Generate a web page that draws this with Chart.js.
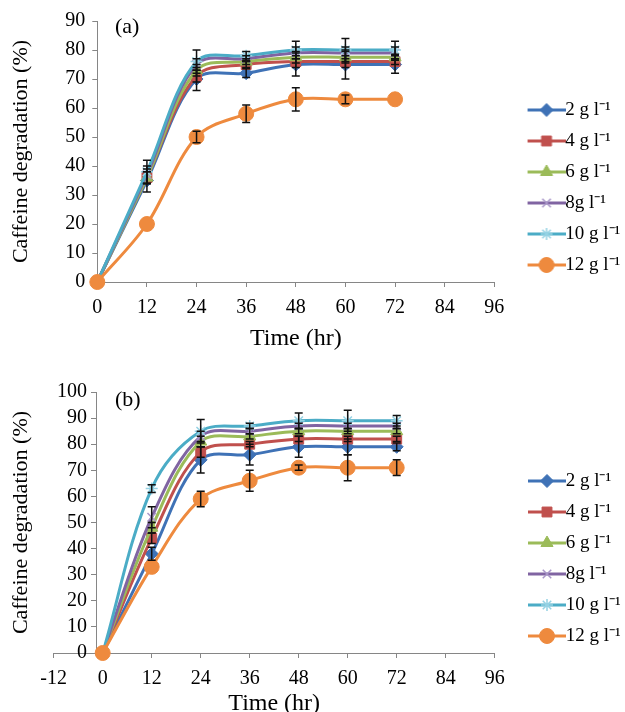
<!DOCTYPE html>
<html>
<head>
<meta charset="utf-8">
<script src="https://cdn.jsdelivr.net/npm/chart.js@4.4.1/dist/chart.umd.min.js"></script>
<style>
  html, body { margin: 0; padding: 0; background: #fff; width: 625px; height: 712px; overflow: hidden; }
  .panel { position: absolute; left: 0; width: 625px; height: 360px; }
</style>
</head>
<body>
<div class="panel" style="top:0"><canvas id="chartA"></canvas></div>
<div class="panel" style="top:370px"><canvas id="chartB"></canvas></div>
<script>
// time points (hr)
const hours = [0, 12, 24, 36, 48, 60, 72];
const seriesNames = ['2 g l\u207B\u00B9', '4 g l\u207B\u00B9', '6 g l\u207B\u00B9', '8g l\u207B\u00B9', '10 g l\u207B\u00B9', '12 g l\u207B\u00B9'];

// panel (a) - caffeine degradation (%)
const a2  = [0, 35, 70, 72, 75, 75, 75];
const a4  = [0, 36, 71, 75, 76, 76, 76];
const a6  = [0, 36, 73, 76, 77.5, 77.5, 77.5];
const a8  = [0, 37, 75, 77, 79, 79, 79];
const a10 = [0, 38, 76, 78, 80, 80, 80];
const a12 = [0, 20, 50, 58, 63, 63, 63];
// panel (a) - error (+/-)
const ea2  = [0, 4, 4, 1.5, 4, 5, 3];
const ea4  = [0, 2, 2, 1, 2, 2, 1];
const ea6  = [0, 2, 2, 1, 2, 2, 1];
const ea8  = [0, 3, 2, 1, 2, 2, 2];
const ea10 = [0, 4, 4, 1.5, 3, 4, 3];
const ea12 = [0, 0, 2, 3, 4, 1.5, 0];

// panel (b)
const b2  = [0, 38, 74, 76, 79, 79, 79];
const b4  = [0, 44, 77, 80, 82, 82, 82];
const b6  = [0, 48, 81, 83, 85, 85, 85];
const b8  = [0, 52, 83, 85, 87, 87, 87];
const b10 = [0, 63, 85, 87, 89, 89, 89];
const b12 = [0, 33, 59, 66, 71, 71, 71];
const eb2  = [0, 2.5, 5, 4, 4, 3, 1.5];
const eb4  = [0, 2, 2, 1, 1, 1, 1];
const eb6  = [0, 2, 2, 1, 1, 1, 1];
const eb8  = [0, 4, 2, 1, 1, 1, 1];
const eb10 = [0, 1.5, 4.5, 1, 3, 4, 2];
const eb12 = [0, 0, 3, 4, 1, 5, 3];

const serif = "'Liberation Serif', 'Times New Roman', serif";
const axisGray = '#868686';

// look of each series (Excel 2010 palette)
const styles = [
  { color: '#3F72B6', marker: '#3F72B6', pointStyle: 'rectRot', radius: 6.5 },
  { color: '#C0504D', marker: '#C0504D', pointStyle: 'rect', radius: 7 },
  { color: '#9BBB59', marker: '#9BBB59', pointStyle: 'triangle', radius: 7 },
  { color: '#8064A2', marker: '#A896C8', pointStyle: 'crossRot', radius: 6 },
  { color: '#4BACC6', marker: '#95D2E4', pointStyle: 'star', radius: 6 },
  { color: '#EE8A3E', marker: '#EE8A3E', pointStyle: 'circle', radius: 7.5 }
];

function buildDatasets(valueSets, errorSets) {
  return valueSets.map((vals, i) => {
    const st = styles[i];
    const thin = st.pointStyle === 'crossRot' || st.pointStyle === 'star';
    return {
      label: seriesNames[i],
      data: hours.map((h, j) => ({ x: h, y: vals[j] })),
      errors: errorSets[i],
      order: valueSets.length - i,
      borderColor: st.color,
      backgroundColor: st.color,
      borderWidth: 3,
      tension: 0.35,
      pointStyle: st.pointStyle,
      pointRadius: st.radius,
      pointBackgroundColor: st.marker,
      pointBorderColor: st.marker,
      pointBorderWidth: thin ? 1.5 : 1,
      clip: false
    };
  });
}

// small line + marker picture used as legend symbol
function legendSwatch(st) {
  const c = document.createElement('canvas');
  c.width = 69; c.height = 18;
  const g = c.getContext('2d');
  g.strokeStyle = st.color; g.lineWidth = 3;
  g.beginPath(); g.moveTo(31, 9); g.lineTo(69, 9); g.stroke();
  g.fillStyle = st.marker; g.strokeStyle = st.marker;
  const thin = st.pointStyle === 'crossRot' || st.pointStyle === 'star';
  g.lineWidth = thin ? 1.5 : 1;
  Chart.helpers.drawPoint(g, { pointStyle: st.pointStyle, radius: st.radius, rotation: 0, borderWidth: g.lineWidth }, 50, 9);
  return c;
}
const swatches = styles.map(legendSwatch);

const errorBars = {
  id: 'errorBars',
  afterDatasetsDraw(chart) {
    const { ctx, scales } = chart;
    ctx.save();
    ctx.strokeStyle = '#111';
    ctx.lineWidth = 1.5;
    chart.data.datasets.forEach(ds => {
      ds.data.forEach((p, i) => {
        const e = ds.errors[i];
        if (!e) return;
        const px = scales.x.getPixelForValue(p.x);
        const top = scales.y.getPixelForValue(p.y + e);
        const bot = scales.y.getPixelForValue(p.y - e);
        ctx.beginPath();
        ctx.moveTo(px, top); ctx.lineTo(px, bot);
        ctx.moveTo(px - 4, top); ctx.lineTo(px + 4, top);
        ctx.moveTo(px - 4, bot); ctx.lineTo(px + 4, bot);
        ctx.stroke();
      });
    });
    ctx.restore();
  }
};

const panelLabel = {
  id: 'panelLabel',
  afterDraw(chart, args, opts) {
    const { ctx, chartArea } = chart;
    ctx.save();
    ctx.font = '22px ' + serif;
    ctx.fillStyle = '#000';
    ctx.textBaseline = 'middle';
    ctx.fillText(opts.text, opts.x, chartArea.top + opts.dy);
    ctx.restore();
  }
};

function legendOptions(rightEdge) {
  return {
    position: 'right',
    align: 'start',
    maxWidth: 625 - rightEdge,
    title: { display: true, text: '', padding: { top: 57.5, bottom: 0 }, font: { size: 10, lineHeight: 1 } },
    labels: {
      usePointStyle: true,
      pointStyleWidth: 49.5,
      padding: 12,
      color: '#000',
      font: { size: 19, family: serif },
      sort: (p, q) => p.datasetIndex - q.datasetIndex,
      generateLabels(chart) {
        const items = Chart.defaults.plugins.legend.labels.generateLabels(chart);
        items.forEach(it => { it.pointStyle = swatches[it.datasetIndex]; });
        return items;
      }
    }
  };
}

function axisLook() {
  return {
    grid: { drawOnChartArea: false, drawTicks: true, tickLength: 5, color: axisGray },
    border: { display: true, color: axisGray, width: 1 }
  };
}

const yTitleText = 'Caffeine degradation (%)';
const xTitleText = 'Time (hr)';

Chart.defaults.font.family = serif;
Chart.defaults.color = '#000';

// ---- panel (a)
new Chart(document.getElementById('chartA'), {
  type: 'line',
  data: { datasets: buildDatasets([a2, a4, a6, a8, a10, a12], [ea2, ea4, ea6, ea8, ea10, ea12]) },
  options: {
    responsive: true,
    maintainAspectRatio: false,
    animation: false,
    devicePixelRatio: 1,
    layout: { padding: { top: 21, left: 0, right: 0, bottom: 0 } },
    scales: {
      x: {
        type: 'linear', min: 0, max: 96,
        ticks: { stepSize: 12, padding: 9, font: { size: 20 } },
        ...axisLook(),
        title: { display: true, text: xTitleText, font: { size: 24 }, padding: { top: 0, bottom: 6.6 } },
        afterFit: s => { s.height = 78; }
      },
      y: {
        min: 0, max: 90,
        ticks: { stepSize: 10, autoSkip: false, padding: 7, font: { size: 20 } },
        ...axisLook(),
        title: { display: true, text: yTitleText, font: { size: 22 }, padding: { top: 8, bottom: 0 } },
        afterFit: s => { s.width = 97.3; }
      }
    },
    plugins: {
      legend: legendOptions(494.3),
      tooltip: { enabled: false },
      panelLabel: { text: '(a)', x: 115, dy: 6 }
    }
  },
  plugins: [errorBars, panelLabel]
});

// ---- panel (b): value axis line crosses the time axis just left of 0
const yCross = -1.5;      // where the axis line sits (hr)
const yLabelEdge = -3.85; // right edge of its tick labels (hr)
new Chart(document.getElementById('chartB'), {
  type: 'line',
  data: { datasets: buildDatasets([b2, b4, b6, b8, b10, b12], [eb2, eb4, eb6, eb8, eb10, eb12]) },
  options: {
    responsive: true,
    maintainAspectRatio: false,
    animation: false,
    devicePixelRatio: 1,
    layout: { padding: { top: 22, left: 0, right: 0, bottom: 0 } },
    scales: {
      x: {
        type: 'linear', min: -12, max: 96,
        ticks: { stepSize: 12, padding: 9, font: { size: 20 } },
        ...axisLook(),
        title: { display: true, text: xTitleText, font: { size: 24 }, padding: { top: 0, bottom: 11.6 } },
        afterFit: s => { s.height = 77; }
      },
      // axis line + tick marks
      y: {
        position: { x: yCross },
        min: 0, max: 100,
        ticks: { display: false, stepSize: 10, autoSkip: false },
        ...axisLook()
      },
      // tick labels
      yLabels: {
        type: 'linear', axis: 'y',
        position: { x: yLabelEdge },
        min: 0, max: 100,
        ticks: { stepSize: 10, autoSkip: false, font: { size: 20 } },
        grid: { display: false, drawTicks: false },
        border: { display: false }
      },
      // axis title on the left edge
      yTitle: {
        type: 'linear', position: 'left', axis: 'y',
        ticks: { display: false },
        grid: { display: false },
        border: { display: false },
        title: { display: true, text: yTitleText, font: { size: 22 }, padding: { top: 8, bottom: 0 } },
        afterFit: s => { s.width = 53.7; }
      }
    },
    plugins: {
      legend: legendOptions(494.7),
      tooltip: { enabled: false },
      panelLabel: { text: '(b)', x: 115, dy: 8 }
    }
  },
  plugins: [errorBars, panelLabel]
});
</script>
</body>
</html>
